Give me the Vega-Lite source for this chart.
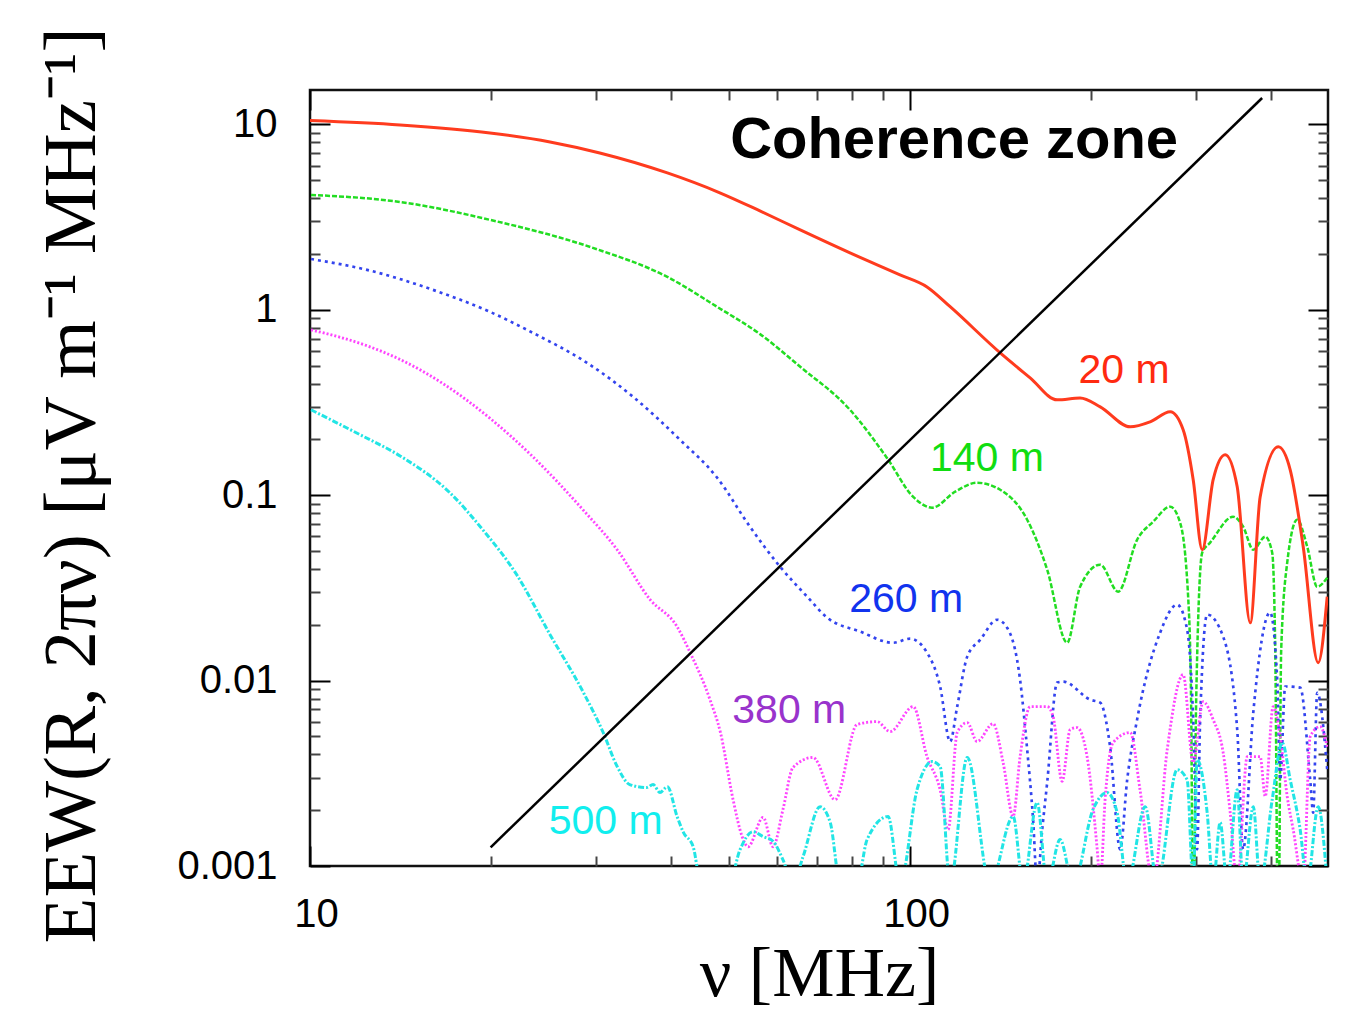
{
  "$schema": "https://vega.github.io/schema/vega-lite/v6.json",
  "autosize": "none",
  "width": 1018,
  "height": 776,
  "padding": {"left": 310, "top": 90, "right": 19, "bottom": 149},
  "background": "white",
  "config": {
    "view": {"stroke": "#111111", "strokeWidth": 2.5},
    "axis": {"grid": false, "domain": false, "labelFont": "Liberation Sans", "labelColor": "#000000", "titleColor": "#000000"}
  },
  "datasets": {
    "curves": [
      {"s": "140 m", "f": 10.04, "v": 4.17}, {"s": "140 m", "f": 14.13, "v": 3.82}, {"s": "140 m", "f": 19.95, "v": 3.06},
      {"s": "140 m", "f": 29.6, "v": 2.16}, {"s": "140 m", "f": 39.4, "v": 1.506}, {"s": "140 m", "f": 47.7, "v": 1.038},
      {"s": "140 m", "f": 56.23, "v": 0.74}, {"s": "140 m", "f": 65.6, "v": 0.493}, {"s": "140 m", "f": 79.4, "v": 0.289},
      {"s": "140 m", "f": 91.5, "v": 0.159}, {"s": "140 m", "f": 101.2, "v": 0.098}, {"s": "140 m", "f": 108.8, "v": 0.0857},
      {"s": "140 m", "f": 118.9, "v": 0.1045}, {"s": "140 m", "f": 129.3, "v": 0.1168}, {"s": "140 m", "f": 141.3, "v": 0.107},
      {"s": "140 m", "f": 156.7, "v": 0.0738}, {"s": "140 m", "f": 169.2, "v": 0.0397}, {"s": "140 m", "f": 182.7, "v": 0.016},
      {"s": "140 m", "f": 192, "v": 0.0321}, {"s": "140 m", "f": 207.4, "v": 0.0422}, {"s": "140 m", "f": 222.2, "v": 0.0302},
      {"s": "140 m", "f": 238.9, "v": 0.0575}, {"s": "140 m", "f": 254.1, "v": 0.072}, {"s": "140 m", "f": 271.3, "v": 0.0867},
      {"s": "140 m", "f": 281.8, "v": 0.0711}, {"s": "140 m", "f": 290.6, "v": 0.0284}, {"s": "140 m", "f": 293.9, "v": 0.0079},
      {"s": "140 m", "f": 296.3, "v": 0.0003}, {"s": "140 m", "f": 299.7, "v": 0.0079}, {"s": "140 m", "f": 306.7, "v": 0.049},
      {"s": "140 m", "f": 316.2, "v": 0.0555}, {"s": "140 m", "f": 345.3, "v": 0.0766}, {"s": "140 m", "f": 358.9, "v": 0.0676},
      {"s": "140 m", "f": 373.1, "v": 0.0508}, {"s": "140 m", "f": 390.6, "v": 0.0598}, {"s": "140 m", "f": 401.2, "v": 0.049},
      {"s": "140 m", "f": 405.9, "v": 0.0147}, {"s": "140 m", "f": 410.6, "v": 0.0003}, {"s": "140 m", "f": 415.3, "v": 0.0147},
      {"s": "140 m", "f": 425, "v": 0.0433}, {"s": "140 m", "f": 441.6, "v": 0.0738}, {"s": "140 m", "f": 458.9, "v": 0.0528},
      {"s": "140 m", "f": 476.8, "v": 0.0321}, {"s": "140 m", "f": 495.5, "v": 0.0359},

      {"s": "260 m", "f": 10.04, "v": 1.88}, {"s": "260 m", "f": 12.45, "v": 1.643}, {"s": "260 m", "f": 16.03, "v": 1.282},
      {"s": "260 m", "f": 19.95, "v": 0.9755}, {"s": "260 m", "f": 23.53, "v": 0.751}, {"s": "260 m", "f": 28.95, "v": 0.518},
      {"s": "260 m", "f": 34.53, "v": 0.34}, {"s": "260 m", "f": 41.37, "v": 0.199}, {"s": "260 m", "f": 47.7, "v": 0.1243},
      {"s": "260 m", "f": 54.1, "v": 0.0676}, {"s": "260 m", "f": 60.7, "v": 0.0412},
      {"s": "260 m", "f": 67.35, "v": 0.0284}, {"s": "260 m", "f": 72.7, "v": 0.0219}, {"s": "260 m", "f": 82.5, "v": 0.0184},
      {"s": "260 m", "f": 93.7, "v": 0.016}, {"s": "260 m", "f": 100, "v": 0.01684}, {"s": "260 m", "f": 106.7, "v": 0.01416},
      {"s": "260 m", "f": 112.2, "v": 0.0093}, {"s": "260 m", "f": 116.6, "v": 0.00469}, {"s": "260 m", "f": 119.8, "v": 0.00724},
      {"s": "260 m", "f": 124.5, "v": 0.01347}, {"s": "260 m", "f": 130.9, "v": 0.01663}, {"s": "260 m", "f": 139.6, "v": 0.0213},
      {"s": "260 m", "f": 145.1, "v": 0.0193}, {"s": "260 m", "f": 152.5, "v": 0.0101}, {"s": "260 m", "f": 156.7, "v": 0.00425},
      {"s": "260 m", "f": 160.3, "v": 0.00178}, {"s": "260 m", "f": 162.8, "v": 0.0008}, {"s": "260 m", "f": 166, "v": 0.00157},
      {"s": "260 m", "f": 169.2, "v": 0.00282}, {"s": "260 m", "f": 175.8, "v": 0.00976}, {"s": "260 m", "f": 179.9, "v": 0.00988},
      {"s": "260 m", "f": 199.5, "v": 0.0079}, {"s": "260 m", "f": 207.4, "v": 0.0076}, {"s": "260 m", "f": 215.4, "v": 0.0044},
      {"s": "260 m", "f": 223.9, "v": 0.00123}, {"s": "260 m", "f": 230, "v": 0.00292}, {"s": "260 m", "f": 238.9, "v": 0.00616},
      {"s": "260 m", "f": 261, "v": 0.01815}, {"s": "260 m", "f": 278.6, "v": 0.0257}, {"s": "260 m", "f": 289.5, "v": 0.01884},
      {"s": "260 m", "f": 296.3, "v": 0.00616}, {"s": "260 m", "f": 300.8, "v": 0.00123}, {"s": "260 m", "f": 304.3, "v": 0.00616},
      {"s": "260 m", "f": 312.6, "v": 0.0227}, {"s": "260 m", "f": 332.4, "v": 0.01726}, {"s": "260 m", "f": 350.8, "v": 0.00544},
      {"s": "260 m", "f": 358.9, "v": 0.00123}, {"s": "260 m", "f": 373.1, "v": 0.00672}, {"s": "260 m", "f": 398.1, "v": 0.0233},
      {"s": "260 m", "f": 409, "v": 0.0101}, {"s": "260 m", "f": 413.7, "v": 0.00292}, {"s": "260 m", "f": 421.7, "v": 0.0093},
      {"s": "260 m", "f": 446.7, "v": 0.00917}, {"s": "260 m", "f": 464.2, "v": 0.00292}, {"s": "260 m", "f": 469.5, "v": 0.00194},
      {"s": "260 m", "f": 476.8, "v": 0.0086}, {"s": "260 m", "f": 495.5, "v": 0.00331},

      {"s": "380 m", "f": 10.04, "v": 0.78}, {"s": "380 m", "f": 12.45, "v": 0.64}, {"s": "380 m", "f": 14.13, "v": 0.54}, {"s": "380 m", "f": 16.66, "v": 0.4},
      {"s": "380 m", "f": 19.95, "v": 0.26}, {"s": "380 m", "f": 23.53, "v": 0.161}, {"s": "380 m", "f": 28.5, "v": 0.0835},
      {"s": "380 m", "f": 32.5, "v": 0.0508}, {"s": "380 m", "f": 36.9, "v": 0.0273}, {"s": "380 m", "f": 40.9, "v": 0.01954},
      {"s": "380 m", "f": 43, "v": 0.01416}, {"s": "380 m", "f": 46.4, "v": 0.0079}, {"s": "380 m", "f": 48.3, "v": 0.00525},
      {"s": "380 m", "f": 50.7, "v": 0.00228}, {"s": "380 m", "f": 52.5, "v": 0.00144}, {"s": "380 m", "f": 53.7, "v": 0.00127},
      {"s": "380 m", "f": 56.9, "v": 0.00183}, {"s": "380 m", "f": 59.1, "v": 0.00127}, {"s": "380 m", "f": 61.4, "v": 0.00202},
      {"s": "380 m", "f": 63.8, "v": 0.0034}, {"s": "380 m", "f": 68.9, "v": 0.00385}, {"s": "380 m", "f": 75, "v": 0.00228},
      {"s": "380 m", "f": 81.6, "v": 0.0058}, {"s": "380 m", "f": 88.1, "v": 0.00601}, {"s": "380 m", "f": 92.6, "v": 0.00531},
      {"s": "380 m", "f": 101.2, "v": 0.00724}, {"s": "380 m", "f": 106.7, "v": 0.00389}, {"s": "380 m", "f": 112.2, "v": 0.00258},
      {"s": "380 m", "f": 115.7, "v": 0.00157}, {"s": "380 m", "f": 119.8, "v": 0.00525}, {"s": "380 m", "f": 124.5, "v": 0.00594},
      {"s": "380 m", "f": 129.3, "v": 0.00469}, {"s": "380 m", "f": 137.5, "v": 0.00586}, {"s": "380 m", "f": 142.9, "v": 0.00361},
      {"s": "380 m", "f": 148.5, "v": 0.00185}, {"s": "380 m", "f": 152.5, "v": 0.00389}, {"s": "380 m", "f": 158.5, "v": 0.00724},
      {"s": "380 m", "f": 169.2, "v": 0.00724}, {"s": "380 m", "f": 173.1, "v": 0.0064}, {"s": "380 m", "f": 179.2, "v": 0.00286},
      {"s": "380 m", "f": 184.8, "v": 0.00544}, {"s": "380 m", "f": 189.8, "v": 0.00558}, {"s": "380 m", "f": 197.2, "v": 0.00389},
      {"s": "380 m", "f": 205, "v": 0.00123}, {"s": "380 m", "f": 207.4, "v": 0.0008}, {"s": "380 m", "f": 211.3, "v": 0.00228},
      {"s": "380 m", "f": 217.9, "v": 0.00463}, {"s": "380 m", "f": 232.7, "v": 0.00525}, {"s": "380 m", "f": 241.6, "v": 0.00258},
      {"s": "380 m", "f": 254.1, "v": 0.0008}, {"s": "380 m", "f": 268.2, "v": 0.00425}, {"s": "380 m", "f": 285.1, "v": 0.01077},
      {"s": "380 m", "f": 296.3, "v": 0.00361}, {"s": "380 m", "f": 307.8, "v": 0.0077}, {"s": "380 m", "f": 319.9, "v": 0.00616},
      {"s": "380 m", "f": 332.4, "v": 0.00409}, {"s": "380 m", "f": 341.5, "v": 0.00194}, {"s": "380 m", "f": 350.8, "v": 0.0008},
      {"s": "380 m", "f": 364.6, "v": 0.00389}, {"s": "380 m", "f": 383.1, "v": 0.00389}, {"s": "380 m", "f": 390.6, "v": 0.00237},
      {"s": "380 m", "f": 402.7, "v": 0.00724}, {"s": "380 m", "f": 413.7, "v": 0.00499}, {"s": "380 m", "f": 425, "v": 0.00237},
      {"s": "380 m", "f": 434.9, "v": 0.00157}, {"s": "380 m", "f": 451.9, "v": 0.0008}, {"s": "380 m", "f": 464.2, "v": 0.00499},
      {"s": "380 m", "f": 482.3, "v": 0.00565}, {"s": "380 m", "f": 495.5, "v": 0.0044},

      {"s": "500 m", "f": 10.04, "v": 0.289}, {"s": "500 m", "f": 12.12, "v": 0.212}, {"s": "500 m", "f": 14.13, "v": 0.163},
      {"s": "500 m", "f": 17.1, "v": 0.1032}, {"s": "500 m", "f": 19.4, "v": 0.0652}, {"s": "500 m", "f": 22.1, "v": 0.0373},
      {"s": "500 m", "f": 25.12, "v": 0.0177}, {"s": "500 m", "f": 28.5, "v": 0.00872}, {"s": "500 m", "f": 30.8, "v": 0.00525},
      {"s": "500 m", "f": 32.5, "v": 0.00344},
      {"s": "500 m", "f": 34.1, "v": 0.00275}, {"s": "500 m", "f": 36.4, "v": 0.00265}, {"s": "500 m", "f": 37.3, "v": 0.00275},
      {"s": "500 m", "f": 38.3, "v": 0.00249}, {"s": "500 m", "f": 39.4, "v": 0.00268}, {"s": "500 m", "f": 40.9, "v": 0.00185},
      {"s": "500 m", "f": 41.9, "v": 0.00152}, {"s": "500 m", "f": 43.5, "v": 0.00127}, {"s": "500 m", "f": 44.67, "v": 0.0008},
      {"s": "500 m", "f": 48.3, "v": 0.0005}, {"s": "500 m", "f": 52.1, "v": 0.00123}, {"s": "500 m", "f": 54.7, "v": 0.00153},
      {"s": "500 m", "f": 56.9, "v": 0.00144}, {"s": "500 m", "f": 59.1, "v": 0.00136}, {"s": "500 m", "f": 61.4, "v": 0.00108},
      {"s": "500 m", "f": 63.8, "v": 0.0008}, {"s": "500 m", "f": 66.3, "v": 0.00112}, {"s": "500 m", "f": 70.8, "v": 0.00209},
      {"s": "500 m", "f": 73.6, "v": 0.00172}, {"s": "500 m", "f": 76.4, "v": 0.0008}, {"s": "500 m", "f": 81, "v": 0.0007},
      {"s": "500 m", "f": 84.8, "v": 0.00139}, {"s": "500 m", "f": 91.9, "v": 0.00185}, {"s": "500 m", "f": 96.2, "v": 0.0008},
      {"s": "500 m", "f": 102.7, "v": 0.00258}, {"s": "500 m", "f": 108.8, "v": 0.00366}, {"s": "500 m", "f": 112.2, "v": 0.00344},
      {"s": "500 m", "f": 116.6, "v": 0.0008}, {"s": "500 m", "f": 124.5, "v": 0.00385}, {"s": "500 m", "f": 135.9, "v": 0.0008},
      {"s": "500 m", "f": 148.5, "v": 0.00185}, {"s": "500 m", "f": 154.3, "v": 0.0008}, {"s": "500 m", "f": 162.8, "v": 0.0022},
      {"s": "500 m", "f": 169.2, "v": 0.0008}, {"s": "500 m", "f": 177.8, "v": 0.00139}, {"s": "500 m", "f": 186.9, "v": 0.0008},
      {"s": "500 m", "f": 201.8, "v": 0.00202}, {"s": "500 m", "f": 212.9, "v": 0.00249}, {"s": "500 m", "f": 221.3, "v": 0.00194},
      {"s": "500 m", "f": 230, "v": 0.0008}, {"s": "500 m", "f": 246.5, "v": 0.00209}, {"s": "500 m", "f": 258, "v": 0.0008},
      {"s": "500 m", "f": 278.6, "v": 0.00331}, {"s": "500 m", "f": 289.5, "v": 0.00292}, {"s": "500 m", "f": 296.3, "v": 0.0008},
      {"s": "500 m", "f": 300.8, "v": 0.00375}, {"s": "500 m", "f": 312.6, "v": 0.00194}, {"s": "500 m", "f": 319.9, "v": 0.0008},
      {"s": "500 m", "f": 328.6, "v": 0.00172}, {"s": "500 m", "f": 337.6, "v": 0.0008}, {"s": "500 m", "f": 350.8, "v": 0.00258},
      {"s": "500 m", "f": 358.9, "v": 0.0008}, {"s": "500 m", "f": 373.1, "v": 0.00209}, {"s": "500 m", "f": 383.1, "v": 0.0008},
      {"s": "500 m", "f": 401.2, "v": 0.00228}, {"s": "500 m", "f": 416.9, "v": 0.00463}, {"s": "500 m", "f": 429.9, "v": 0.00292},
      {"s": "500 m", "f": 446.7, "v": 0.00157}, {"s": "500 m", "f": 458.9, "v": 0.0008}, {"s": "500 m", "f": 478.6, "v": 0.00209},
      {"s": "500 m", "f": 495.5, "v": 0.0008}
    ],
    "red": [
      {"s": "20 m", "f": 10, "v": 10.5}, {"s": "20 m", "f": 14.13, "v": 9.94}, {"s": "20 m", "f": 19.95, "v": 9.0},
      {"s": "20 m", "f": 25.12, "v": 8.05}, {"s": "20 m", "f": 30.4, "v": 7.02}, {"s": "20 m", "f": 39.4, "v": 5.48},
      {"s": "20 m", "f": 48.3, "v": 4.27}, {"s": "20 m", "f": 56.2, "v": 3.42}, {"s": "20 m", "f": 65.6, "v": 2.7},
      {"s": "20 m", "f": 79.4, "v": 2.03}, {"s": "20 m", "f": 96.2, "v": 1.545}, {"s": "20 m", "f": 106.7, "v": 1.33},
      {"s": "20 m", "f": 116.6, "v": 1.04}, {"s": "20 m", "f": 141.3, "v": 0.586}, {"s": "20 m", "f": 158.5, "v": 0.43},
      {"s": "20 m", "f": 175.8, "v": 0.327}, {"s": "20 m", "f": 192, "v": 0.335}, {"s": "20 m", "f": 207.4, "v": 0.3},
      {"s": "20 m", "f": 232.7, "v": 0.234}, {"s": "20 m", "f": 251.2, "v": 0.249}, {"s": "20 m", "f": 271.3, "v": 0.282},
      {"s": "20 m", "f": 285.1, "v": 0.2256}, {"s": "20 m", "f": 296.3, "v": 0.1213}, {"s": "20 m", "f": 306.7, "v": 0.0508},
      {"s": "20 m", "f": 319.9, "v": 0.1213}, {"s": "20 m", "f": 335, "v": 0.1653}, {"s": "20 m", "f": 350.8, "v": 0.111},
      {"s": "20 m", "f": 368.8, "v": 0.0205}, {"s": "20 m", "f": 383.1, "v": 0.098}, {"s": "20 m", "f": 410.6, "v": 0.1826},
      {"s": "20 m", "f": 429.9, "v": 0.1372}, {"s": "20 m", "f": 451.9, "v": 0.0528}, {"s": "20 m", "f": 478.6, "v": 0.0125},
      {"s": "20 m", "f": 495.5, "v": 0.0284}
    ],
    "diag": [{"f": 20, "v": 0.00126}, {"f": 386, "v": 13.9}],
    "labels": [
      {"s": "20 m", "f": 227.3, "v": 0.404},
      {"s": "140 m", "f": 134.3, "v": 0.1355},
      {"s": "260 m", "f": 98.5, "v": 0.02355},
      {"s": "380 m", "f": 62.9, "v": 0.00594},
      {"s": "500 m", "f": 31.1, "v": 0.00148}
    ],
    "zone": [{"t": "Coherence zone", "f": 118.4, "v": 6.6}]
  },
  "resolve": {"axis": {"x": "independent", "y": "independent"}},
  "layer": [
    {
      "data": {"name": "curves"},
      "mark": {"type": "line", "clip": true, "interpolate": "monotone"},
      "encoding": {
        "x": {"field": "f", "type": "quantitative",
          "scale": {"type": "log", "domain": [10, 497], "nice": false},
          "axis": {"orient": "bottom", "values": [10, 100], "ticks": false, "labelFontSize": 40, "labelPadding": 28,
            "labelOffset": 6, "labelFlush": false, "labelOverlap": false, "labelBound": false, "format": "~g",
            "title": "ν [MHz]", "titleFont": "Liberation Serif", "titleFontSize": 70, "titleFontWeight": "normal",
            "titleX": 509, "titleY": 129, "titleBaseline": "alphabetic", "titleAlign": "center"}},
        "y": {"field": "v", "type": "quantitative",
          "scale": {"type": "log", "domain": [0.001, 15.35], "nice": false},
          "axis": {"orient": "left", "values": [0.001, 0.01, 0.1, 1, 10], "ticks": false, "labelFontSize": 40, "labelPadding": 33,
            "labelBaseline": "middle", "labelFlush": false, "labelOverlap": false, "labelBound": false, "format": "~g",
            "title": "EEW(R, 2πν)  [μV  m⁻¹  MHz⁻¹]", "titleFont": "Liberation Serif", "titleFontSize": 75, "titleFontWeight": "normal",
            "titleAngle": -90, "titleX": -216, "titleY": 395, "titleBaseline": "alphabetic", "titleAlign": "center"}},
        "stroke": {"field": "s", "type": "nominal", "legend": null,
          "scale": {"domain": ["140 m", "260 m", "380 m", "500 m"], "range": ["#22dd22", "#3344ee", "#ff44ff", "#22e5e5"]}},
        "strokeDash": {"field": "s", "type": "nominal", "legend": null,
          "scale": {"domain": ["140 m", "260 m", "380 m", "500 m"], "range": [[5, 2], [3, 4], [2, 2], [6, 2, 2, 2]]}},
        "strokeWidth": {"field": "s", "type": "ordinal", "legend": null,
          "scale": {"domain": ["140 m", "260 m", "380 m", "500 m"], "range": [2.5, 3, 2.2, 2.5]}}
      }
    },
    {
      "data": {"name": "red"},
      "mark": {"type": "line", "clip": true, "interpolate": "monotone", "color": "#ff3b1e", "strokeWidth": 3},
      "encoding": {
        "x": {"field": "f", "type": "quantitative",
          "axis": {"orient": "bottom", "values": [10, 100], "labels": false, "tickSize": -20, "tickWidth": 2, "tickColor": "#000000", "title": null}},
        "y": {"field": "v", "type": "quantitative",
          "axis": {"orient": "left", "values": [0.001, 0.01, 0.1, 1, 10], "labels": false, "tickSize": -20, "tickWidth": 2, "tickColor": "#000000", "title": null}}
      }
    },
    {
      "data": {"name": "diag"},
      "mark": {"type": "line", "color": "#000000", "strokeWidth": 2.5},
      "encoding": {
        "x": {"field": "f", "type": "quantitative",
          "axis": {"orient": "top", "values": [10, 100], "labels": false, "tickSize": -20, "tickWidth": 2, "tickColor": "#000000", "title": null}},
        "y": {"field": "v", "type": "quantitative",
          "axis": {"orient": "right", "values": [0.001, 0.01, 0.1, 1, 10], "labels": false, "tickSize": -20, "tickWidth": 2, "tickColor": "#000000", "title": null}}
      }
    },
    {
      "data": {"name": "labels"},
      "mark": {"type": "text", "font": "Liberation Sans", "fontSize": 41, "align": "center", "baseline": "alphabetic"},
      "encoding": {
        "x": {"field": "f", "type": "quantitative",
          "axis": {"orient": "bottom", "values": [20, 30, 40, 50, 60, 70, 80, 90, 200, 300, 400], "labels": false, "tickSize": -10, "tickWidth": 2, "tickColor": "#444444", "title": null}},
        "y": {"field": "v", "type": "quantitative",
          "axis": {"orient": "left", "values": [0.002, 0.003, 0.004, 0.005, 0.006, 0.007, 0.008, 0.009, 0.02, 0.03, 0.04, 0.05, 0.06, 0.07, 0.08, 0.09, 0.2, 0.3, 0.4, 0.5, 0.6, 0.7, 0.8, 0.9, 2, 3, 4, 5, 6, 7, 8, 9],
            "labels": false, "tickSize": -10, "tickWidth": 2, "tickColor": "#444444", "title": null}},
        "text": {"field": "s"},
        "fill": {"field": "s", "type": "nominal", "legend": null,
          "scale": {"domain": ["20 m", "140 m", "260 m", "380 m", "500 m"], "range": ["#ff2a10", "#11dd11", "#1133ee", "#9933cc", "#11eeee"]}}
      }
    },
    {
      "data": {"name": "zone"},
      "mark": {"type": "text", "font": "Liberation Sans", "fontSize": 58, "fontWeight": "bold", "align": "center", "baseline": "alphabetic", "color": "#000000"},
      "encoding": {
        "x": {"field": "f", "type": "quantitative",
          "axis": {"orient": "top", "values": [20, 30, 40, 50, 60, 70, 80, 90, 200, 300, 400], "labels": false, "tickSize": -10, "tickWidth": 2, "tickColor": "#444444", "title": null}},
        "y": {"field": "v", "type": "quantitative",
          "axis": {"orient": "right", "values": [0.002, 0.003, 0.004, 0.005, 0.006, 0.007, 0.008, 0.009, 0.02, 0.03, 0.04, 0.05, 0.06, 0.07, 0.08, 0.09, 0.2, 0.3, 0.4, 0.5, 0.6, 0.7, 0.8, 0.9, 2, 3, 4, 5, 6, 7, 8, 9],
            "labels": false, "tickSize": -10, "tickWidth": 2, "tickColor": "#444444", "title": null}},
        "text": {"field": "t"}
      }
    }
  ]
}
